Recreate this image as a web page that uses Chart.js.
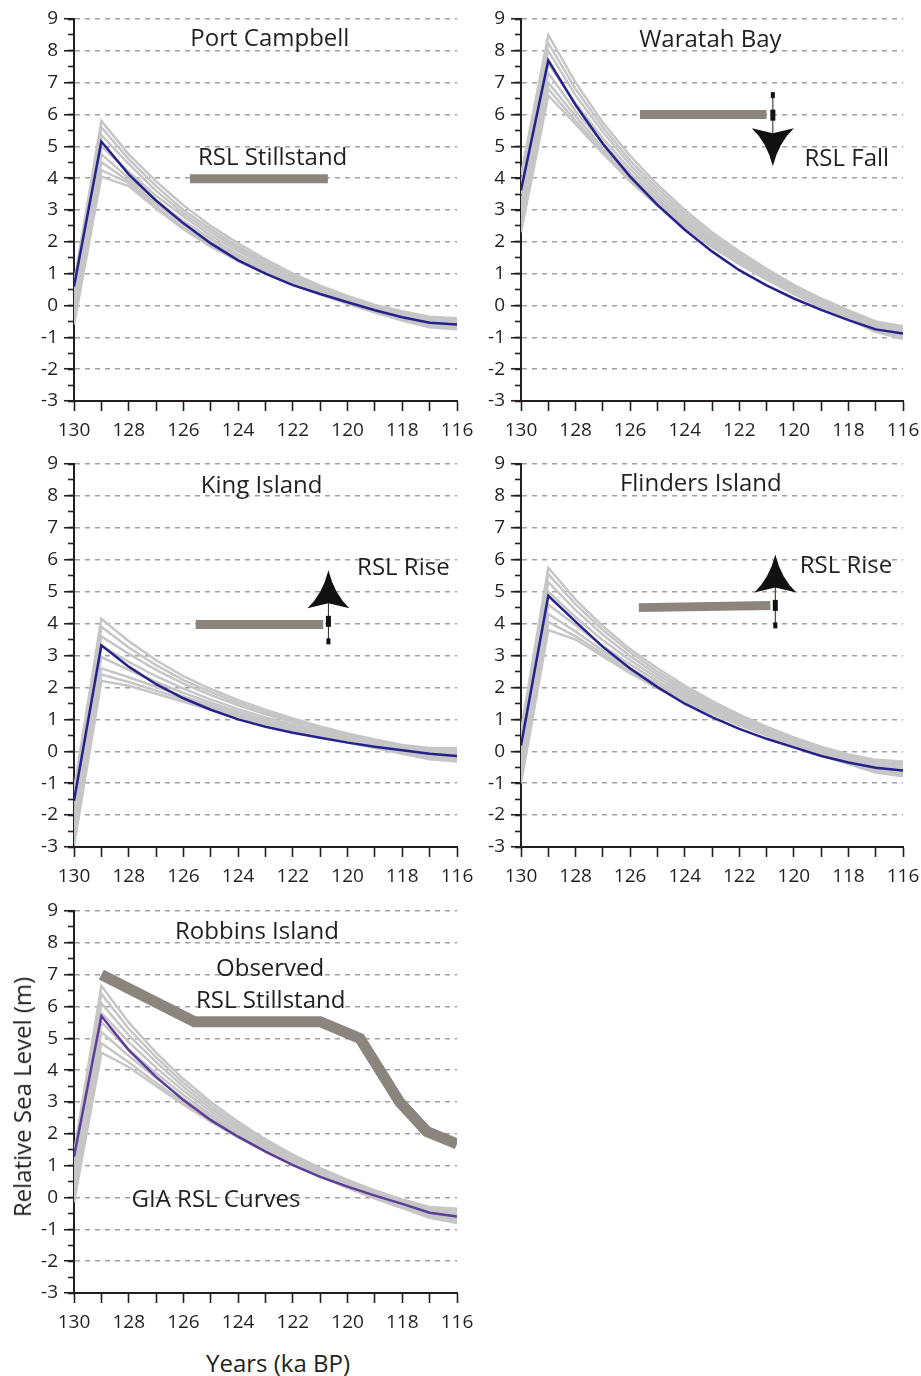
<!DOCTYPE html>
<html>
<head>
<meta charset="utf-8">
<script src="https://cdn.jsdelivr.net/npm/chart.js@4.4.1/dist/chart.umd.min.js"></script>
<style>
  body { margin: 0; background: #fff; width: 921px; height: 1376px; overflow: hidden; position: relative; font-family: 'Open Sans', sans-serif; }
  canvas { position: absolute; }
  .axis-title { position: absolute; font-size: 24px; line-height: 1; color: #231f20; white-space: nowrap; }
</style>
</head>
<body>
<canvas id="c1"></canvas>
<canvas id="c2"></canvas>
<canvas id="c3"></canvas>
<canvas id="c4"></canvas>
<canvas id="c5"></canvas>
<div class="axis-title" style="left:22px;top:1097px;transform:translate(-50%,-50%) rotate(-90deg);">Relative Sea Level (m)</div>
<div class="axis-title" style="left:278px;top:1363px;transform:translate(-50%,-50%);">Years (ka BP)</div>
<script>
// time axis, ka BP
const years = [130, 129, 128, 127, 126, 125, 124, 123, 122, 121, 120, 119, 118, 117, 116];

// Port Campbell
const pcBlue = [0.6, 5.15, 4.12, 3.3, 2.58, 1.95, 1.42, 1.0, 0.64, 0.36, 0.1, -0.15, -0.37, -0.54, -0.6];
const pcGrey = [
  [0.7, 5.8, 4.75, 3.9, 3.15, 2.5, 1.95, 1.45, 1.0, 0.62, 0.3, 0.02, -0.18, -0.35, -0.4],
  [0.5, 5.6, 4.6, 3.75, 3.0, 2.4, 1.85, 1.38, 0.95, 0.58, 0.27, 0.0, -0.2, -0.38, -0.45],
  [0.3, 5.35, 4.45, 3.6, 2.9, 2.3, 1.78, 1.32, 0.9, 0.55, 0.24, -0.04, -0.25, -0.42, -0.5],
  [0.1, 5.0, 4.2, 3.45, 2.8, 2.2, 1.7, 1.25, 0.85, 0.5, 0.2, -0.08, -0.3, -0.48, -0.55],
  [-0.1, 4.75, 4.0, 3.3, 2.65, 2.1, 1.6, 1.18, 0.8, 0.46, 0.16, -0.12, -0.35, -0.55, -0.62],
  [-0.3, 4.5, 3.9, 3.2, 2.55, 2.0, 1.52, 1.1, 0.74, 0.42, 0.12, -0.16, -0.4, -0.6, -0.68],
  [-0.45, 4.25, 3.85, 3.1, 2.45, 1.92, 1.45, 1.05, 0.7, 0.38, 0.08, -0.2, -0.45, -0.65, -0.72],
  [-0.6, 4.05, 3.75, 3.05, 2.4, 1.85, 1.4, 1.0, 0.66, 0.35, 0.05, -0.22, -0.47, -0.68, -0.75]
];
const pcBarYears = [125.76, 120.72];
const pcBarLevel = [3.98, 3.98];

// Waratah Bay
const wbBlue = [3.62, 7.7, 6.3, 5.08, 4.05, 3.16, 2.38, 1.7, 1.11, 0.63, 0.22, -0.14, -0.46, -0.75, -0.88];
const wbGrey = [
  [4.1, 8.5, 7.0, 5.75, 4.7, 3.8, 3.0, 2.3, 1.7, 1.15, 0.65, 0.22, -0.15, -0.5, -0.65],
  [3.8, 8.25, 6.8, 5.6, 4.55, 3.68, 2.9, 2.22, 1.62, 1.08, 0.6, 0.18, -0.2, -0.55, -0.72],
  [3.5, 8.0, 6.6, 5.45, 4.42, 3.56, 2.8, 2.14, 1.55, 1.02, 0.55, 0.13, -0.25, -0.6, -0.78],
  [3.2, 7.6, 6.35, 5.25, 4.28, 3.45, 2.7, 2.06, 1.48, 0.96, 0.5, 0.08, -0.3, -0.65, -0.85],
  [3.0, 7.3, 6.1, 5.1, 4.15, 3.35, 2.62, 1.99, 1.42, 0.92, 0.46, 0.04, -0.34, -0.7, -0.9],
  [2.8, 7.0, 5.95, 4.95, 4.05, 3.26, 2.55, 1.93, 1.37, 0.87, 0.42, 0.0, -0.38, -0.75, -0.95],
  [2.55, 6.8, 5.8, 4.85, 3.97, 3.19, 2.5, 1.88, 1.33, 0.84, 0.39, -0.03, -0.41, -0.8, -1.0],
  [2.3, 6.6, 5.7, 4.78, 3.9, 3.13, 2.45, 1.84, 1.3, 0.81, 0.36, -0.06, -0.44, -0.83, -1.05]
];
const wbBarYears = [125.64, 121.0];
const wbBarLevel = [6.0, 6.0];

// King Island
const kiBlue = [-1.55, 3.32, 2.65, 2.1, 1.66, 1.3, 1.0, 0.77, 0.58, 0.42, 0.27, 0.14, 0.03, -0.08, -0.15];
const kiGrey = [
  [-1.2, 4.15, 3.45, 2.85, 2.35, 1.95, 1.6, 1.3, 1.03, 0.78, 0.56, 0.37, 0.2, 0.1, 0.1],
  [-1.45, 3.9, 3.25, 2.7, 2.23, 1.85, 1.52, 1.23, 0.97, 0.73, 0.52, 0.33, 0.16, 0.06, 0.05],
  [-1.7, 3.6, 3.05, 2.55, 2.12, 1.76, 1.44, 1.16, 0.91, 0.68, 0.47, 0.28, 0.12, 0.02, 0.0],
  [-2.0, 3.3, 2.8, 2.35, 1.96, 1.62, 1.32, 1.06, 0.83, 0.62, 0.42, 0.24, 0.08, -0.04, -0.08],
  [-2.2, 2.95, 2.55, 2.17, 1.83, 1.52, 1.24, 0.99, 0.77, 0.57, 0.38, 0.2, 0.04, -0.1, -0.15],
  [-2.45, 2.6, 2.32, 2.02, 1.72, 1.44, 1.18, 0.94, 0.73, 0.53, 0.34, 0.16, 0.0, -0.15, -0.2],
  [-2.7, 2.4, 2.17, 1.9, 1.63, 1.37, 1.12, 0.9, 0.69, 0.5, 0.31, 0.13, -0.04, -0.2, -0.25],
  [-2.95, 2.2, 2.05, 1.8, 1.55, 1.3, 1.07, 0.85, 0.65, 0.46, 0.28, 0.1, -0.08, -0.25, -0.32]
];
const kiBarYears = [125.55, 120.89];
const kiBarLevel = [3.97, 3.97];

// Flinders Island
const fiBlue = [0.18, 4.87, 4.06, 3.27, 2.59, 2.01, 1.49, 1.07, 0.7, 0.39, 0.12, -0.15, -0.35, -0.52, -0.6];
const fiGrey = [
  [0.65, 5.75, 4.75, 3.92, 3.2, 2.6, 2.06, 1.58, 1.15, 0.77, 0.43, 0.14, -0.1, -0.27, -0.32],
  [0.4, 5.55, 4.6, 3.8, 3.1, 2.5, 1.98, 1.51, 1.1, 0.72, 0.39, 0.1, -0.14, -0.32, -0.38],
  [0.15, 5.3, 4.42, 3.65, 2.98, 2.4, 1.9, 1.45, 1.04, 0.68, 0.35, 0.06, -0.19, -0.38, -0.45],
  [-0.05, 5.0, 4.2, 3.48, 2.85, 2.3, 1.82, 1.39, 0.99, 0.64, 0.31, 0.02, -0.24, -0.45, -0.52],
  [-0.3, 4.6, 3.95, 3.3, 2.72, 2.2, 1.74, 1.32, 0.94, 0.6, 0.27, -0.02, -0.29, -0.52, -0.6],
  [-0.5, 4.3, 3.75, 3.15, 2.6, 2.11, 1.67, 1.26, 0.89, 0.56, 0.24, -0.06, -0.33, -0.58, -0.66],
  [-0.75, 4.05, 3.6, 3.05, 2.52, 2.04, 1.61, 1.21, 0.85, 0.52, 0.21, -0.09, -0.37, -0.63, -0.72],
  [-1.0, 3.8, 3.5, 2.97, 2.45, 1.98, 1.56, 1.17, 0.82, 0.49, 0.18, -0.12, -0.4, -0.67, -0.78]
];
const fiBarYears = [125.68, 120.86];
const fiBarLevel = [4.5, 4.57];

// Robbins Island
const riBlue = [1.28, 5.7, 4.63, 3.79, 3.06, 2.43, 1.91, 1.44, 1.02, 0.65, 0.34, 0.06, -0.2, -0.48, -0.6];
const riGrey = [
  [1.4, 6.65, 5.5, 4.55, 3.72, 3.0, 2.38, 1.83, 1.35, 0.92, 0.55, 0.22, -0.06, -0.3, -0.35],
  [1.2, 6.4, 5.3, 4.4, 3.6, 2.9, 2.3, 1.77, 1.3, 0.88, 0.51, 0.18, -0.1, -0.35, -0.42],
  [1.0, 6.1, 5.1, 4.25, 3.48, 2.8, 2.22, 1.71, 1.25, 0.84, 0.47, 0.14, -0.15, -0.4, -0.5],
  [0.75, 5.8, 4.88, 4.08, 3.35, 2.7, 2.14, 1.65, 1.2, 0.8, 0.43, 0.1, -0.19, -0.45, -0.56],
  [0.5, 5.5, 4.65, 3.9, 3.22, 2.6, 2.06, 1.59, 1.15, 0.76, 0.4, 0.07, -0.23, -0.5, -0.62],
  [0.3, 5.2, 4.45, 3.75, 3.1, 2.52, 2.0, 1.54, 1.11, 0.72, 0.36, 0.03, -0.27, -0.55, -0.68],
  [0.05, 4.85, 4.25, 3.6, 3.0, 2.44, 1.94, 1.49, 1.07, 0.68, 0.33, 0.0, -0.3, -0.6, -0.74],
  [-0.15, 4.55, 4.1, 3.5, 2.92, 2.38, 1.89, 1.45, 1.04, 0.66, 0.3, -0.03, -0.33, -0.64, -0.8]
];
const riObsYears = [129, 125.6, 121.0, 119.55, 118.1, 117.1, 116];
const riObsLevel = [7.0, 5.52, 5.52, 5.0, 3.0, 2.07, 1.68];

const GREY = '#c6c6c6';
const BLUE = '#24238c';
const PURPLE = '#5c3d98';
const BAR = '#8c857e';
const INK = '#231f20';

Chart.defaults.font.family = "'Open Sans', sans-serif";
Chart.defaults.font.size = 19;
Chart.defaults.color = INK;

const pts = (xs, ys) => xs.map((x, i) => ({ x: x, y: ys[i] }));

// panel layout: plot area in page pixels, label text anchored in data units
const panels = [
  { id: 'c1', left: 74, top: 19, right: 457, bottom: 401, blue: pcBlue, grey: pcGrey, bar: [pcBarYears, pcBarLevel],
    labels: [{ t: 'Port Campbell', x: 122.84, y: 8.16 }, { t: 'RSL Stillstand', x: 122.74, y: 4.41 }] },
  { id: 'c2', left: 521, top: 19, right: 903, bottom: 401, blue: wbBlue, grey: wbGrey, bar: [wbBarYears, wbBarLevel],
    labels: [{ t: 'Waratah Bay', x: 123.06, y: 8.13 }, { t: 'RSL Fall', x: 118.06, y: 4.39 }],
    arrow: { x: 120.77, y: 5.98, dir: 1 } },
  { id: 'c3', left: 74, top: 464, right: 457, bottom: 847, blue: kiBlue, grey: kiGrey, bar: [kiBarYears, kiBarLevel],
    labels: [{ t: 'King Island', x: 123.14, y: 8.09 }, { t: 'RSL Rise', x: 117.96, y: 5.52 }],
    arrow: { x: 120.7, y: 4.07, dir: -1 } },
  { id: 'c4', left: 521, top: 464, right: 903, bottom: 847, blue: fiBlue, grey: fiGrey, bar: [fiBarYears, fiBarLevel],
    labels: [{ t: 'Flinders Island', x: 123.41, y: 8.14 }, { t: 'RSL Rise', x: 118.09, y: 5.59 }],
    arrow: { x: 120.68, y: 4.57, dir: -1 } },
  { id: 'c5', left: 74, top: 911, right: 457, bottom: 1293, blue: riBlue, blueColor: PURPLE, grey: riGrey,
    obs: [riObsYears, riObsLevel],
    labels: [{ t: 'Robbins Island', x: 123.31, y: 8.13 }, { t: 'Observed', x: 122.83, y: 6.95 },
             { t: 'RSL Stillstand', x: 122.81, y: 5.94 }, { t: 'GIA RSL Curves', x: 124.81, y: -0.29 }] }
];

const AXIS_W = 74, PAD_TOP = 19, PAD_RIGHT = 30, XAXIS_H = 45;

function drawArrow(ctx, ax, ay, dir) {
  // dir = 1 points down, -1 points up
  ctx.strokeStyle = '#222';
  ctx.lineWidth = 1;
  ctx.beginPath();
  ctx.moveTo(ax, ay - dir * 22);
  ctx.lineTo(ax, ay + dir * 20);
  ctx.stroke();
  ctx.fillStyle = '#111';
  ctx.fillRect(ax - 2.5, ay - 5.5, 5, 11);
  ctx.fillRect(ax - 2, ay - dir * 20 - 3, 4, 6);
  const wy = ay + dir * 13, ny = ay + dir * 18, ty = ay + dir * 51;
  ctx.beginPath();
  ctx.moveTo(ax, ny);
  ctx.lineTo(ax - 21, wy);
  ctx.quadraticCurveTo(ax - 6, wy + dir * 14, ax, ty);
  ctx.quadraticCurveTo(ax + 6, wy + dir * 14, ax + 21, wy);
  ctx.closePath();
  ctx.fill();
}

function makeAnnotator(p) {
  return {
    id: 'annotate_' + p.id,
    afterDatasetsDraw(chart) {
      const { ctx, scales: { x, y } } = chart;
      ctx.save();
      ctx.fillStyle = INK;
      ctx.font = "24px 'Open Sans', sans-serif";
      ctx.textAlign = 'center';
      ctx.textBaseline = 'alphabetic';
      p.labels.forEach(l => ctx.fillText(l.t, x.getPixelForValue(l.x), y.getPixelForValue(l.y)));
      if (p.arrow) drawArrow(ctx, x.getPixelForValue(p.arrow.x), y.getPixelForValue(p.arrow.y), p.arrow.dir);
      ctx.restore();
    }
  };
}

panels.forEach(p => {
  const canvas = document.getElementById(p.id);
  const w = (p.right - p.left) + AXIS_W + PAD_RIGHT;
  const h = (p.bottom - p.top) + PAD_TOP + XAXIS_H;
  canvas.width = w;
  canvas.height = h;
  canvas.style.left = (p.left - AXIS_W) + 'px';
  canvas.style.top = (p.top - PAD_TOP) + 'px';

  const datasets = [];
  datasets.push({
    data: pts(years, p.blue), borderColor: p.blueColor || BLUE, borderWidth: 2.5,
    pointRadius: 0, tension: 0, order: 1
  });
  p.grey.forEach(g => datasets.push({
    data: pts(years, g), borderColor: GREY, borderWidth: 2.5, pointRadius: 0, tension: 0, order: 2
  }));
  if (p.bar) datasets.push({
    data: pts(p.bar[0], p.bar[1]), borderColor: BAR, borderWidth: 9, borderCapStyle: 'butt',
    pointRadius: 0, order: 0
  });
  if (p.obs) datasets.push({
    data: pts(p.obs[0], p.obs[1]), borderColor: BAR, borderWidth: 11, borderCapStyle: 'butt',
    borderJoinStyle: 'miter', pointRadius: 0, tension: 0, order: 0
  });

  new Chart(canvas, {
    type: 'line',
    data: { datasets: datasets },
    options: {
      responsive: false,
      animation: false,
      devicePixelRatio: 1,
      layout: { padding: { top: PAD_TOP, right: PAD_RIGHT, left: 0, bottom: 0 } },
      plugins: { legend: { display: false }, tooltip: { enabled: false } },
      scales: {
        x: {
          type: 'linear', reverse: true, min: 116, max: 130,
          afterFit: s => { s.height = XAXIS_H; },
          ticks: {
            stepSize: 1, autoSkip: false, maxRotation: 0, padding: 8,
            callback: v => (v % 2 === 0 ? String(v) : '')
          },
          grid: { drawOnChartArea: false, tickLength: 10, tickColor: INK, tickWidth: 1.6 },
          border: { color: INK, width: 2 }
        },
        y: {
          type: 'linear', position: 'left', weight: 1, min: -3, max: 9,
          afterFit: s => { s.width = AXIS_W; },
          ticks: { stepSize: 1, padding: 6 },
          grid: {
            color: c => (c.tick && c.tick.value === -3 ? 'rgba(0,0,0,0)' : '#a0a0a0'),
            lineWidth: 1.5, tickLength: 10, tickColor: INK, tickWidth: 1.6
          },
          border: { color: INK, width: 2, dash: [5, 5] }
        },
        yMinor: {
          type: 'linear', position: 'left', weight: 0, min: -3, max: 9,
          afterFit: s => { s.width = 0; },
          ticks: { stepSize: 0.5, display: false },
          grid: { drawOnChartArea: false, tickLength: 6, tickColor: INK, tickWidth: 1.6 },
          border: { display: false }
        }
      }
    },
    plugins: [makeAnnotator(p)]
  });
});
</script>
</body>
</html>
